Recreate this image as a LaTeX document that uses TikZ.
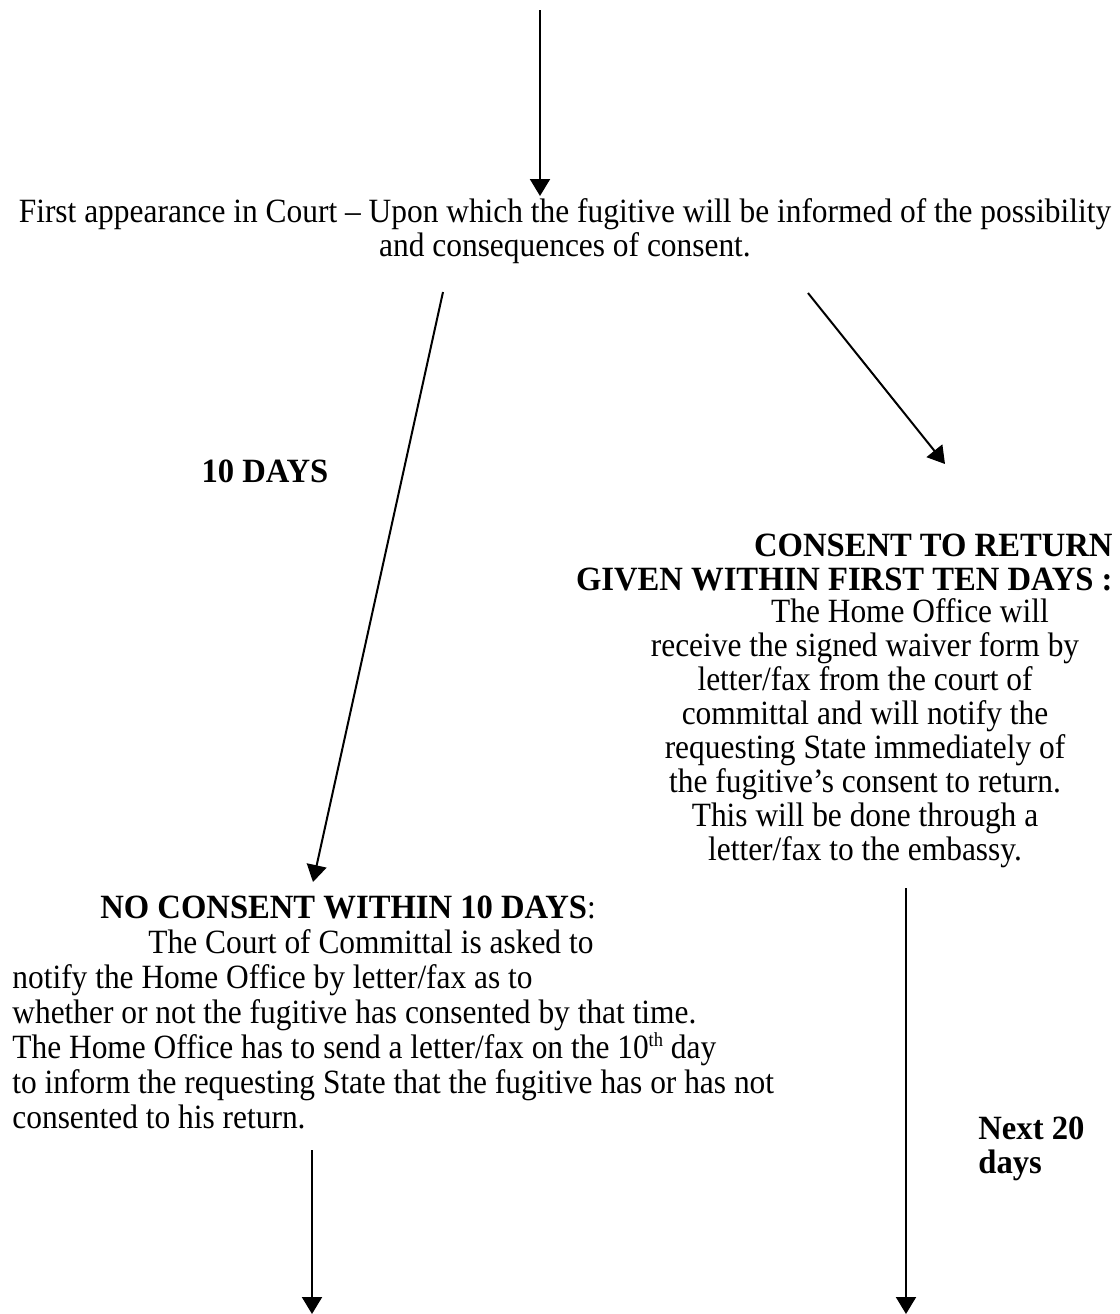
\documentclass[tikz,border=0pt]{standalone}
\usepackage{fontspec}
\setmainfont{Liberation Serif}[FakeStretch=0.924]
\newfontfamily\hdfont{Liberation Serif}[FakeStretch=0.96]
\usetikzlibrary{arrows.meta}
\newcommand{\supth}{\raisebox{0.75ex}{\fontsize{10}{10}\selectfont th}}
\begin{document}
\begin{tikzpicture}[x=0.5pt,y=-0.5pt,
  txt/.style={inner sep=0pt,font=\fontsize{17}{17}\selectfont},
  txtl/.style={inner sep=0pt,font=\fontsize{17}{17.5}\selectfont},
  hd/.style={inner sep=0pt,font=\fontsize{17}{17}\hdfont\bfseries},
  arr/.style={line width=1pt,-{Triangle[length=8.5pt,width=10pt]}}]
\useasboundingbox (0,0) rectangle (1120,1314);
% nodes (base anchor = baseline of the last line)
\node[txt,align=center,anchor=base] (intro) at (565,256)
  {First appearance in Court -- Upon which the fugitive will be informed of the possibility\\
   and consequences of consent.};
\node[hd,anchor=base] (ten) at (265,482) {10 DAYS};
\node[hd,align=right,anchor=base east] (conshd) at (1113,590)
  {CONSENT TO RETURN\\ GIVEN WITHIN FIRST TEN DAYS :};
\node[txt,align=center,anchor=base] (consbody) at (865,860)
  {\hspace*{45pt}The Home Office will\\
   receive the signed waiver form by\\
   letter/fax from the court of\\
   committal and will notify the\\
   requesting State immediately of\\
   the fugitive's consent to return.\\
   This will be done through a\\
   letter/fax to the embassy.};
\node[txtl,align=left,anchor=base west] (nocons) at (12,1128)
  {\hspace*{44pt}{\hdfont\bfseries NO CONSENT WITHIN 10 DAYS}:\\
   \hspace*{68pt}The Court of Committal is asked to\\
   notify the Home Office by letter/fax as to\\
   whether or not the fugitive has consented by that time.\\
   The Home Office has to send a letter/fax on the 10\supth{} day\\
   to inform the requesting State that the fugitive has or has not\\
   consented to his return.};
\node[hd,align=left,anchor=base west] (next) at (978,1173) {Next 20\\ days};
% arrow end points
\coordinate (top) at (540,10);
\coordinate (introT) at (540,196);
\coordinate (introL) at (443,292);
\coordinate (introR) at (808,293);
\coordinate (noconsT) at (313,882);
\coordinate (consT) at (945,464);
\coordinate (consB) at (906,888);
\coordinate (noconsB) at (312,1150);
\coordinate (endL) at (312,1314);
\coordinate (endR) at (906,1314);
\draw[arr] (top) -- (introT);
\draw[arr] (introL) -- (noconsT);
\draw[arr] (introR) -- (consT);
\draw[arr] (consB) -- (endR);
\draw[arr] (noconsB) -- (endL);
\end{tikzpicture}
\end{document}
